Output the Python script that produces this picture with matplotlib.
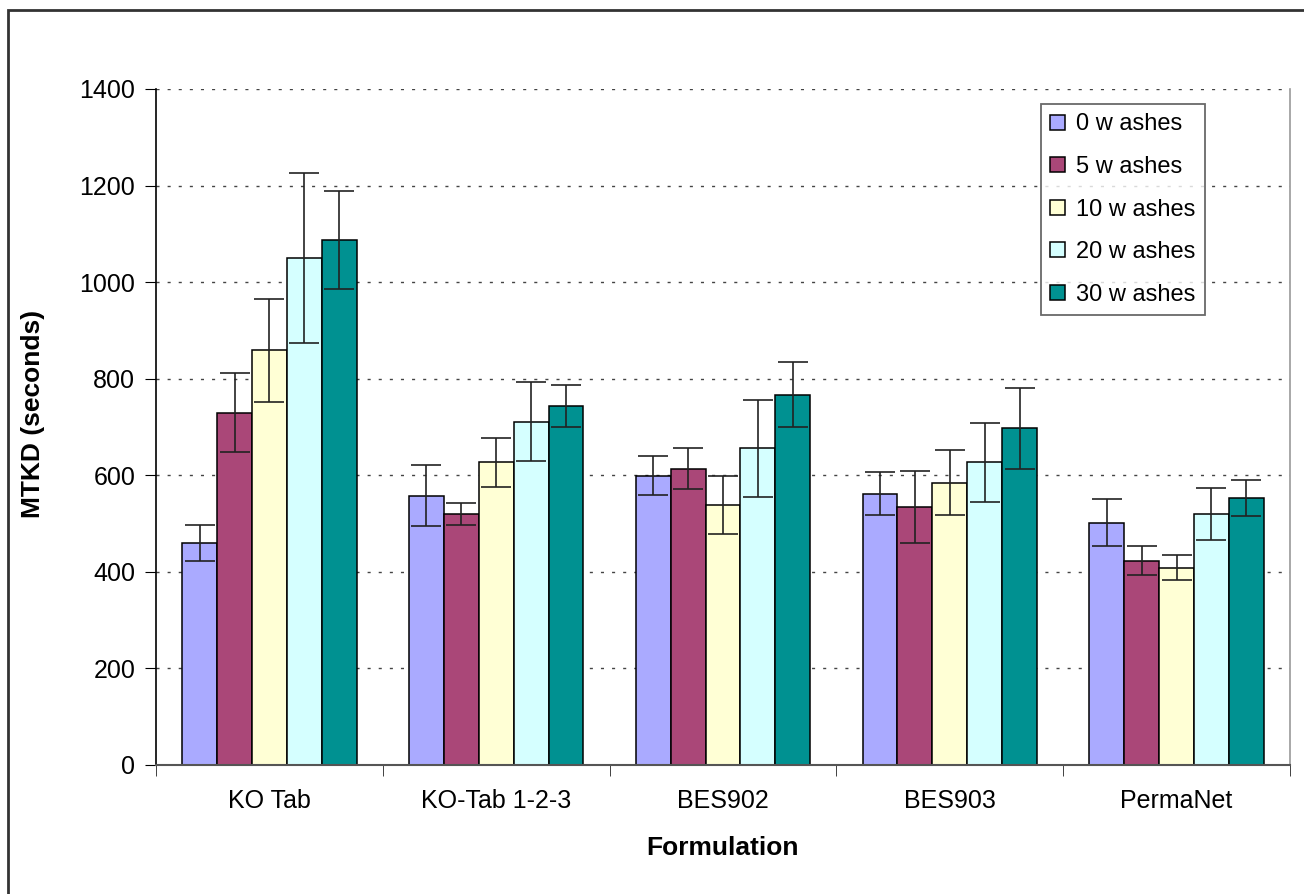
import matplotlib.pyplot as plt
import numpy as np
from matplotlib.patches import Rectangle

plt.rcParams['font.family'] = ['Liberation Sans', 'DejaVu Sans']

# Dane
formulacje = ["KO Tab", "KO-Tab 1-2-3", "BES902", "BES903", "PermaNet"]
serie = ["0 w ashes", "5 w ashes", "10 w ashes", "20 w ashes", "30 w ashes"]

mtkd_0 = [460, 558, 599, 562, 502]
mtkd_5 = [730, 520, 614, 534, 423]
mtkd_10 = [859, 627, 539, 585, 409]
mtkd_20 = [1050, 711, 656, 627, 520]
mtkd_30 = [1087, 743, 767, 697, 553]

blad_0 = [37, 63, 40, 44, 49]
blad_5 = [82, 23, 42, 75, 30]
blad_10 = [107, 51, 60, 67, 25]
blad_20 = [177, 82, 100, 82, 53]
blad_30 = [102, 44, 67, 84, 37]

kolory = ["#AAAAFF", "#AA4778", "#FFFFD5", "#D5FFFF", "#009191"]

wartosci = [mtkd_0, mtkd_5, mtkd_10, mtkd_20, mtkd_30]
bledy = [blad_0, blad_5, blad_10, blad_20, blad_30]

fig = plt.figure(figsize=(13.04, 8.94), dpi=100)
ax = fig.add_axes([156/1304, 1-765/894, (1290-156)/1304, (765-89)/894])

x = np.arange(len(formulacje))
szer = 0.1538
for i in range(5):
    ax.bar(x + (i-2)*szer, wartosci[i], szer, color=kolory[i], edgecolor="black",
           linewidth=1.1, label=serie[i], zorder=2)
    ax.errorbar(x + (i-2)*szer, wartosci[i], yerr=bledy[i], fmt="none", ecolor="#222222",
                elinewidth=1.2, capsize=11, capthick=1.2, zorder=3)

ax.set_xlim(-0.5, 4.5)
ax.set_ylim(0, 1400)
ax.set_yticks(range(0, 1401, 200))
ax.yaxis.grid(True, color="#444444", linestyle=(0, (2.2, 5.8)), linewidth=1)
ax.set_axisbelow(True)

ax.set_xticks(x)
ax.set_xticklabels(formulacje, fontsize=18)
ax.set_xticks(np.arange(-0.5, 5, 1), minor=True)
ax.tick_params(axis="x", which="major", length=0, pad=17.5)
ax.tick_params(axis="x", which="minor", length=8, direction="out", color="#222222")
ax.tick_params(axis="y", length=8, direction="out", labelsize=18, pad=7)

ax.spines["top"].set_visible(False)
ax.spines["right"].set_color("#999999")
ax.spines["right"].set_linewidth(1.2)
ax.spines["bottom"].set_color("#555555")
ax.spines["bottom"].set_linewidth(1.5)
ax.spines["left"].set_color("black")
ax.spines["left"].set_linewidth(1.2)

fig.text(723/1304, 1-848/894, "Formulation", ha="center", va="center",
         fontsize=19, fontweight="bold")
fig.text(33/1304, 1-414/894, "MTKD (seconds)", ha="center", va="center",
         rotation=90, fontsize=19, fontweight="bold")

leg = ax.legend(loc="upper left", bbox_to_anchor=(1041/1304, 1-104/894),
                bbox_transform=fig.transFigure, fontsize=17, frameon=True,
                fancybox=False, edgecolor="#444444", borderpad=0.4,
                labelspacing=0.87, handlelength=0.6, handleheight=0.6,
                handletextpad=0.5, borderaxespad=0)
leg.get_frame().set_linewidth(1.3)

# ramka wokol wykresu
fig.add_artist(Rectangle((8/1304, -0.1), 2, 1-10/894+0.1, transform=fig.transFigure,
                         fill=False, linewidth=2, edgecolor="#333333"))

fig.savefig("out.png", dpi=100)
